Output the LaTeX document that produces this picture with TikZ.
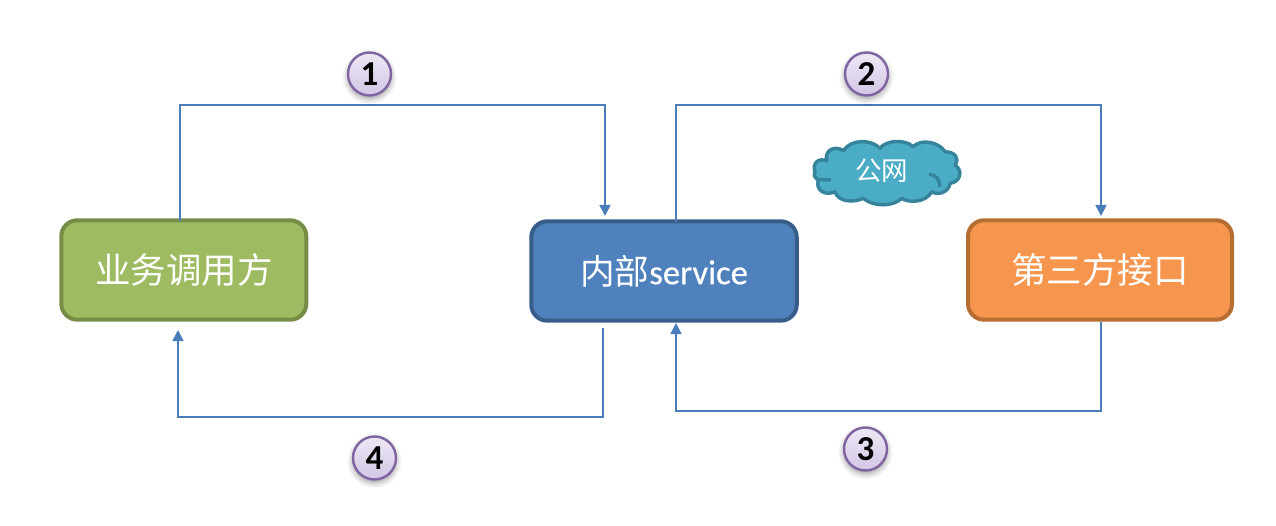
\documentclass[tikz,border=0pt]{standalone}
\usepackage{fontspec}
\setmainfont{Carlito}
\newfontfamily\cjk{Noto Sans CJK SC}
\newfontfamily\svc[FakeBold=0.5]{Carlito}
\usetikzlibrary{arrows.meta,shadows.blur}
\definecolor{conn}{HTML}{4A7EBB}
\definecolor{myGreen}{HTML}{9EBB61}
\definecolor{myGreenD}{HTML}{778C46}
\definecolor{myBlue}{HTML}{4F81BD}
\definecolor{myBlueD}{HTML}{385D8A}
\definecolor{myOrange}{HTML}{F6964E}
\definecolor{myOrangeD}{HTML}{B66D31}
\definecolor{myPurple}{HTML}{8064A2}
\definecolor{myPurpleA}{HTML}{EDE8F4}
\definecolor{myPurpleB}{HTML}{D3C6E6}
\definecolor{myCloud}{HTML}{4BACC6}
\definecolor{myCloudD}{HTML}{35849B}
\tikzset{
  boxbase/.style={draw,rounded corners=16pt,line width=4pt,minimum height=99.4pt,text=white,font=\fontsize{35.5}{38}\selectfont,inner sep=0pt},
  greenbox/.style={boxbase,fill=myGreen,draw=myGreenD,minimum width=245pt},
  bluebox/.style={boxbase,fill=myBlue,draw=myBlueD,minimum width=265.5pt,font=\fontsize{34.6}{38}\selectfont},
  orangebox/.style={boxbase,fill=myOrange,draw=myOrangeD,minimum width=264pt},
  badge/.style={circle,draw=myPurple,line width=2.4pt,minimum size=43pt,inner sep=0pt,top color=myPurpleA,bottom color=myPurpleB,font=\fontsize{35}{36}\selectfont\bfseries,text=black,blur shadow={shadow xshift=0pt,shadow yshift=-3pt,shadow blur steps=10,shadow blur radius=6pt,shadow opacity=40}},
  link/.style={draw=conn,line width=1.6pt},
  linkarrow/.style={link,-{Triangle[length=11pt,width=11pt]}},
  cloudline/.style={draw=myCloudD,line width=3.4pt,line join=round},
  cloudtext/.style={text=white,inner sep=0pt,font=\fontsize{26.5}{28}\selectfont},
}
\begin{document}
\begin{tikzpicture}[x=1pt,y=-1pt]
\useasboundingbox (0,0) rectangle (1276,526);
% cloud outline
\path[cloudline,fill=myCloud] (815,172)
  .. controls (812,164) and (818,157) .. (826.7,161)
  .. controls (824,150) and (835,145) .. (843.3,150.7)
  .. controls (851,139) and (871,139) .. (880,148.3)
  .. controls (886,140) and (905,139) .. (913.3,146.7)
  .. controls (920,139) and (938,141) .. (945,151.7)
  .. controls (955,152) and (960,158) .. (955,165)
  .. controls (963,170) and (961,182) .. (950,183.3)
  .. controls (949,192) and (938,196) .. (931.7,191.7)
  .. controls (926,203) and (908,203) .. (901.7,198.3)
  .. controls (893,207) and (873,207) .. (863.3,198.3)
  .. controls (853,203) and (838,202) .. (835,191.7)
  .. controls (826,196) and (815,191) .. (818.3,180)
  .. controls (815,178) and (813,175) .. cycle;
\path[cloudline] (818.3,179.5) -- (831,180);
\path[cloudline] (929,174) .. controls (938,177) .. (940,187);
\node[greenbox] (caller) at (183.8,270) {\cjk 业务调用方};
\node[bluebox] (service) at (664,271) {\cjk 内部\svc service};
\node[orangebox] (third) at (1100,270) {\cjk 第三方接口};
\node[cloudtext] (net) at (881.5,171) {\cjk 公网};
\coordinate (railtop) at (0,105);
\coordinate (railthree) at (0,411);
\coordinate (railfour) at (0,417);
\coordinate (out1) at ([xshift=-3.8pt,yshift=-3pt]caller.north);
\coordinate (out2) at ([xshift=12pt,yshift=-3pt]service.north);
\coordinate (out3) at ([xshift=1pt]third.south);
\coordinate (out4) at (603,328);
\coordinate (in1) at (605,216);
\coordinate (in2) at (1101,216);
\coordinate (in3) at (676,323);
\coordinate (in4) at (178,330);
\draw[linkarrow] (out1) -- (out1 |- railtop) -| (in1);
\draw[linkarrow] (out2) -- (out2 |- railtop) -| (in2);
\draw[linkarrow] (out3) -- (out3 |- railthree) -| (in3);
\draw[linkarrow] (out4) -- (out4 |- railfour) -| (in4);
\node[badge] (n1) at (369.5,74) {1};
\node[badge] (n2) at (866.5,74) {2};
\node[badge] (n3) at (865.5,449) {3};
\node[badge] (n4) at (374.5,458) {4};
\end{tikzpicture}
\end{document}
